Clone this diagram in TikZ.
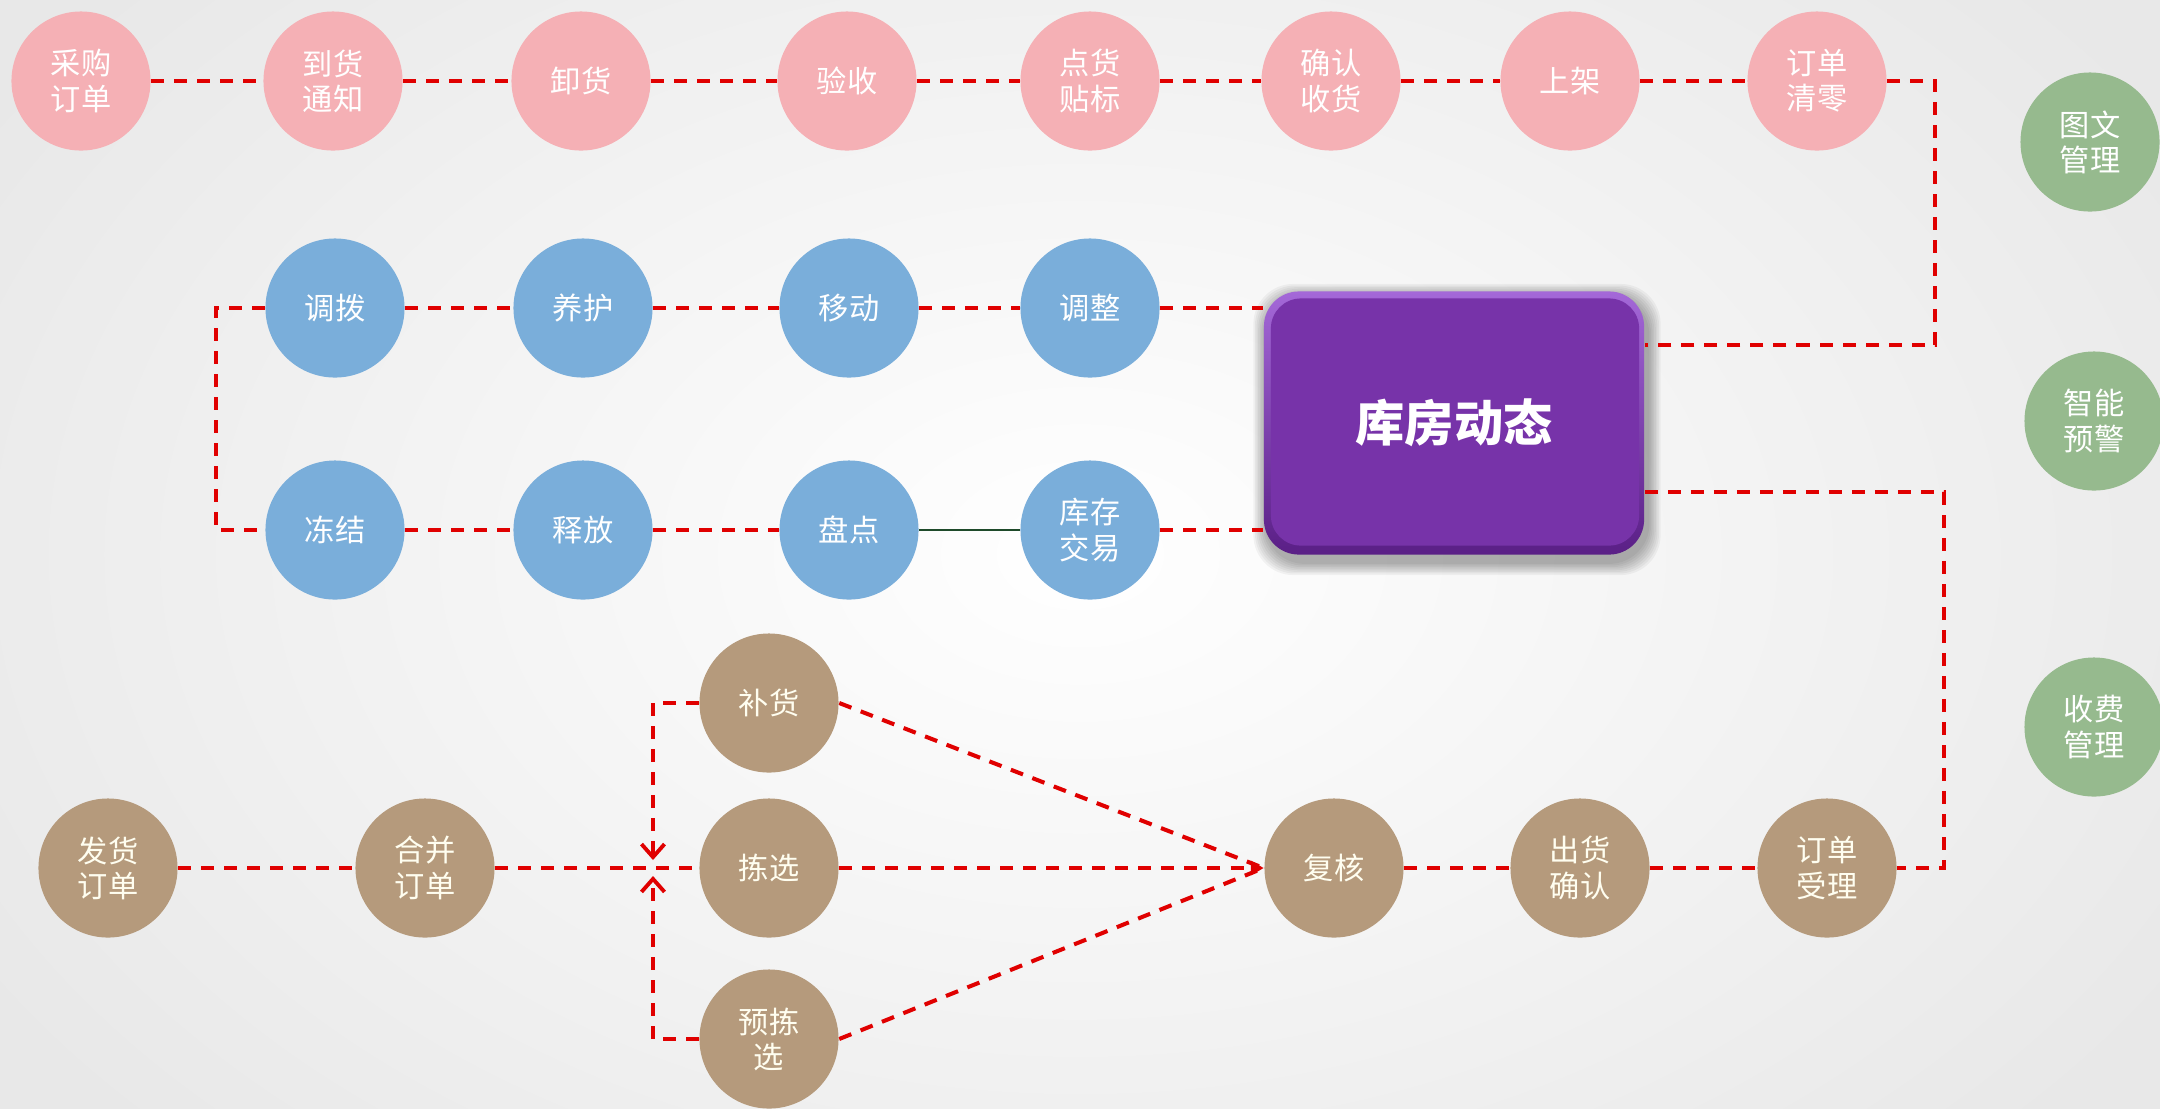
\documentclass[tikz,border=0pt]{standalone}
\usepackage{fontspec}
\newfontfamily\cjk{Noto Sans CJK SC}
\usetikzlibrary{arrows.meta}
\definecolor{pinkc}{HTML}{F5B0B5}
\definecolor{bluec}{HTML}{7AAEDA}
\definecolor{brownc}{HTML}{B59A7C}
\definecolor{greenc}{HTML}{96BA8E}
\definecolor{purplec}{HTML}{7733A9}
\definecolor{purplehi}{HTML}{A468D8}
\definecolor{purplelo}{HTML}{5A1F86}
\definecolor{redc}{HTML}{E00000}
\definecolor{greenline}{HTML}{1E4A2A}
\pgfdeclarelayer{bg}
\pgfdeclarelayer{lines}
\pgfsetlayers{bg,lines,main}
\begin{document}
\begin{tikzpicture}[x=0.01cm,y=-0.01cm,
  bub/.style={circle,minimum size=1.39cm,inner sep=0pt,align=center,text=white,
    font=\cjk\fontsize{8.6pt}{10pt}\selectfont},
  pk/.style={bub,fill=pinkc},
  bl/.style={bub,fill=bluec},
  br/.style={bub,fill=brownc,text=white!94!yellow},
  gr/.style={bub,fill=greenc},
  hub/.style={rectangle,rounded corners=0.35cm,minimum width=3.8cm,minimum height=2.63cm,
    top color=purplehi,bottom color=purplelo,text=white,
    font=\cjk\bfseries\fontsize{14pt}{16pt}\selectfont,
    path picture={\fill[purplec,rounded corners=0.3cm]
      ([shift={(7,7)}]path picture bounding box.north west) rectangle
      ([shift={(-5,-9)}]path picture bounding box.south east);}},
  shad/.style={fill=black,opacity=0.045,rounded corners=0.4cm},
  flow/.style={draw=redc,line width=1.15pt,dash pattern=on 0.13cm off 0.1cm},
  barb/.style={-{Straight Barb[length=0.13cm,width=0.23cm,line width=1.1pt]}},
  tri/.style={-{Triangle[length=0.13cm,width=0.14cm]}}
]
\useasboundingbox (0,0) rectangle (2160,1108);
\begin{pgfonlayer}{bg}
  \shade[inner color=white,outer color=black!9] (-200,-300) rectangle (2360,1408);
\end{pgfonlayer}

% top row
\node[pk] (cg) at (81,81) {采购\\订单};
\node[pk] (dh) at (333,81) {到货\\通知};
\node[pk] (xh) at (581,81) {卸货};
\node[pk] (ys) at (847,81) {验收};
\node[pk] (dt) at (1090,81) {点货\\贴标};
\node[pk] (qr) at (1331,81) {确认\\收货};
\node[pk] (sj) at (1570,81) {上架};
\node[pk] (qz) at (1817,81) {订单\\清零};

% blue rows
\node[bl] (db) at (335,308) {调拨};
\node[bl] (yh) at (583,308) {养护};
\node[bl] (yd) at (849,308) {移动};
\node[bl] (tz) at (1090,308) {调整};
\node[bl] (dj) at (335,530) {冻结};
\node[bl] (sf) at (583,530) {释放};
\node[bl] (pd) at (849,530) {盘点};
\node[bl] (kj) at (1090,530) {库存\\交易};

% hub
\node[hub] (kf) at (1454,423) {库房动态};

% green column
\node[gr] (tw) at (2090,142) {图文\\管理};
\node[gr] (zn) at (2094,421) {智能\\预警};
\node[gr] (sm) at (2094,727) {收费\\管理};

% brown rows
\node[br] (fd) at (108,868) {发货\\订单};
\node[br] (hb) at (425,868) {合并\\订单};
\node[br] (bh) at (769,703) {补货};
\node[br] (jx) at (769,868) {拣选};
\node[br] (yj) at (769,1039) {预拣\\选};
\node[br] (fh) at (1334,868) {复核};
\node[br] (cq) at (1580,868) {出货\\确认};
\node[br] (sl) at (1827,868) {订单\\受理};

% helper coordinates
\coordinate (t1) at (1935,81);
\coordinate (t2) at (1935,345);
\coordinate (l1) at (216,308);
\coordinate (l2) at (216,530);
\coordinate (r1) at (1944,492);
\coordinate (r2) at (1944,868);
\coordinate (jnu) at (653,860);
\coordinate (jnd) at (653,876);

\begin{pgfonlayer}{lines}
  % soft shadow of the hub
  \foreach \i in {1,...,8}
    \fill[shad] ([shift={(3-\i*1.6,6-\i*1.6)}]kf.north west) rectangle ([shift={(3+\i*1.6,7+\i*1.6)}]kf.south east);
  \foreach \a/\b in {cg/dh,dh/xh,xh/ys,ys/dt,dt/qr,qr/sj,sj/qz,
                     db/yh,yh/yd,yd/tz,dj/sf,sf/pd,
                     fd/hb,hb/jx,fh/cq,cq/sl}
    \draw[flow] (\a) -- (\b);
  \draw[flow] (qz) -- (t1) -- (t2) -- (t2 -| kf.east);
  \draw[flow] (tz) -- (tz -| kf.west);
  \draw[flow] (kj) -- (kj -| kf.west);
  \draw[flow] (db) -- (l1) -- (l2) -- (dj);
  \draw[flow] (r1 -| kf.east) -- (r1) -- (r2) -- (sl);
  \draw[greenline,line width=0.8pt] (pd) -- (kj);
  \draw[flow,barb] (bh.west) -| (jnu);
  \draw[flow,barb] (yj.west) -| (jnd);
  \draw[flow] (bh.east) -- (fh.west);
  \draw[flow] (yj.east) -- (fh.west);
  \draw[flow,tri] (jx) -- (fh);
\end{pgfonlayer}
\end{tikzpicture}
\end{document}
